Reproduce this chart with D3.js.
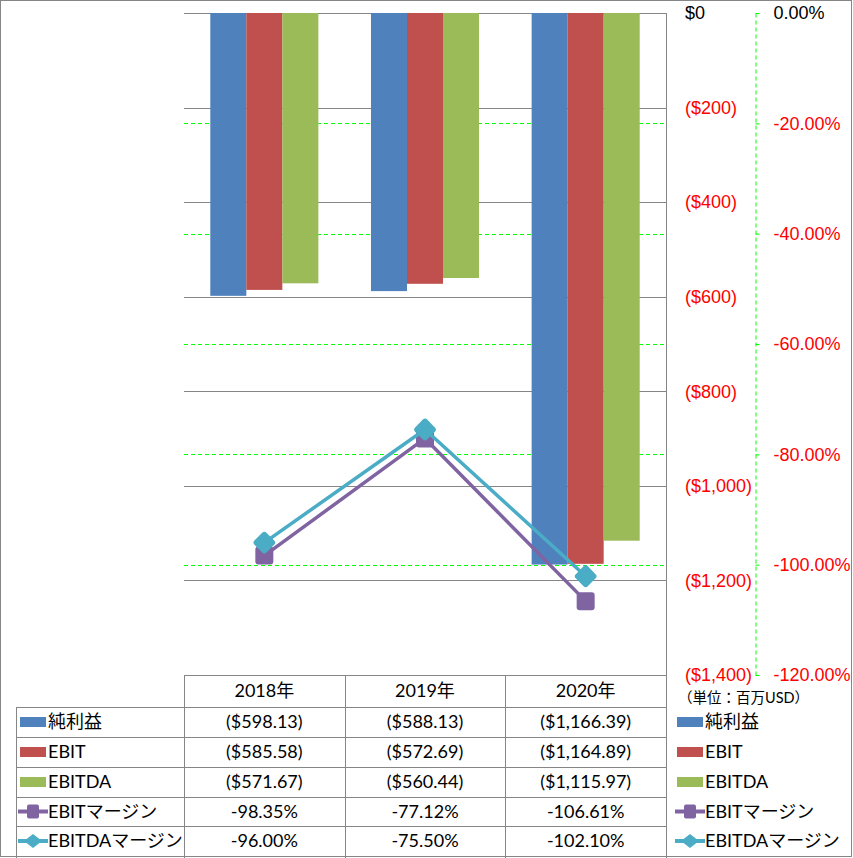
<!DOCTYPE html>
<html lang="ja">
<head>
<meta charset="UTF-8">
<script src="https://cdn.jsdelivr.net/npm/d3@7/dist/d3.min.js"></script>
<title>純利益 / EBIT / EBITDA</title>
<style>
  body { margin: 0; background: #fff; }
  svg { display: block; font-family: Lato, "Noto Sans CJK JP", sans-serif; }
</style>
</head>
<body>
<svg id="chart" width="853" height="858"></svg>
<script>
  // data (百万USD)
  const years = ["2018年", "2019年", "2020年"];
  const netIncome = [-598.13, -588.13, -1166.39];
  const ebit = [-585.58, -572.69, -1164.89];
  const ebitda = [-571.67, -560.44, -1115.97];
  const ebitMargin = [-98.35, -77.12, -106.61];
  const ebitdaMargin = [-96.00, -75.50, -102.10];
  const moneyTicks = [0, -200, -400, -600, -800, -1000, -1200, -1400];
  const pctTicks = [0, -20, -40, -60, -80, -100, -120];

  const barSeries = [
    {name: "純利益", values: netIncome, color: "#4F81BD"},
    {name: "EBIT", values: ebit, color: "#C0504D"},
    {name: "EBITDA", values: ebitda, color: "#9BBB59"}
  ];
  const lineSeries = [
    {name: "EBITマージン", values: ebitMargin, color: "#8064A2", shape: "square"},
    {name: "EBITDAマージン", values: ebitdaMargin, color: "#4BACC6", shape: "diamond"}
  ];

  const svg = d3.select("#chart");
  const grid = "#868686";
  const fs = 18;
  const plotL = 184, plotR = 666, plotT = 13, plotB = 675;

  // plain hyphen minus like the spreadsheet
  const pct = d3.formatLocale({decimal: ".", thousands: ",", grouping: [3], currency: ["$", ""], minus: "-"}).format(".2f");
  const fmtPct = d => pct(d) + "%";

  const x = d3.scaleBand(years, [plotL, plotR]);
  const x1 = d3.scaleBand(barSeries.map(d => d.name), [0, x.bandwidth()]).paddingOuter(0.73);
  const y = d3.scaleLinear([-1400, 0], [plotB, plotT]);
  const y2 = d3.scaleLinear([-120, 0], [plotB, plotT]);

  // outer frame
  svg.append("rect").attr("x", 0.5).attr("y", 0.5).attr("width", 851).attr("height", 856)
    .attr("fill", "none").attr("stroke", grid);

  // secondary gridlines (dashed green)
  svg.append("g").selectAll("line")
    .data(pctTicks.filter(d => d !== 0 && d !== -120))
    .join("line")
    .attr("x1", plotL).attr("x2", plotR)
    .attr("y1", d => Math.round(y2(d)) + 0.5).attr("y2", d => Math.round(y2(d)) + 0.5)
    .attr("stroke", "#00FF00").attr("stroke-dasharray", "4,3");

  // primary gridlines
  svg.append("g").selectAll("line")
    .data(moneyTicks)
    .join("line")
    .attr("x1", plotL).attr("x2", plotR)
    .attr("y1", d => Math.round(y(d)) + 0.5).attr("y2", d => Math.round(y(d)) + 0.5)
    .attr("stroke", grid);

  // bars
  svg.append("g").selectAll("g")
    .data(barSeries)
    .join("g")
    .attr("fill", d => d.color)
    .selectAll("rect")
    .data(s => s.values.map((v, i) => ({name: s.name, year: years[i], v})))
    .join("rect")
    .attr("x", d => x(d.year) + x1(d.name))
    .attr("width", x1.bandwidth())
    .attr("y", y(0))
    .attr("height", d => y(d.v) - y(0));

  // lines + markers
  const cx = d => x(d) + x.bandwidth() / 2;
  const line = d3.line().x(d => cx(d.year)).y(d => y2(d.v));
  function marker(sel, shape) {
    if (shape === "square") {
      sel.append("rect").attr("x", -9).attr("y", -9)
        .attr("width", 18).attr("height", 18).attr("rx", 3);
    } else {
      sel.append("rect").attr("x", -8.5).attr("y", -8.5)
        .attr("width", 17).attr("height", 17).attr("rx", 3)
        .attr("transform", "rotate(45)");
    }
  }
  lineSeries.forEach(s => {
    const pts = s.values.map((v, i) => ({year: years[i], v}));
    svg.append("path").datum(pts)
      .attr("d", line).attr("fill", "none")
      .attr("stroke", s.color).attr("stroke-width", 3.5).attr("stroke-linejoin", "round");
    svg.append("g").attr("fill", s.color).selectAll("g")
      .data(pts).join("g")
      .attr("transform", d => `translate(${cx(d.year)},${y2(d.v)})`)
      .each(function () { marker(d3.select(this), s.shape); });
  });

  // primary axis labels
  const fmtMoney = d => d === 0 ? "$0" : `($${d3.format(",")(Math.abs(d))})`;
  const axL = svg.append("g").attr("transform", `translate(${plotR},0)`)
    .call(d3.axisRight(y).tickValues(moneyTicks).tickFormat(fmtMoney).tickSize(0).tickPadding(19));
  axL.select(".domain").remove();
  axL.selectAll("text").attr("font-size", fs).attr("font-family", null)
    .attr("fill", d => d === 0 ? "#000" : "#FF0000");

  // secondary axis
  const axR = svg.append("g").attr("transform", `translate(755.5,0)`)
    .call(d3.axisRight(y2).tickValues(pctTicks).tickFormat(fmtPct)
      .tickSize(4).tickSizeOuter(0).tickPadding(14));
  axR.select(".domain").attr("stroke", "#00FF00").attr("stroke-dasharray", "4,3");
  axR.selectAll(".tick line").attr("stroke", "#00FF00");
  axR.selectAll("text").attr("font-size", fs).attr("font-family", null)
    .attr("fill", d => d === 0 ? "#000" : "#FF0000");

  svg.append("text").attr("x", 678).attr("y", 703).attr("font-size", 14.5)
    .text("（単位：百万USD）");

  // data table
  const rowEdges = [675, 707, 737, 767, 797, 826, 856];
  const colEdges = [16, plotL, x(years[1]), x(years[2]), plotR];
  const tbl = svg.append("g").attr("stroke", grid).attr("fill", "none");
  rowEdges.slice(1, -1).forEach(r => {
    tbl.append("line").attr("x1", colEdges[0]).attr("x2", plotR)
      .attr("y1", r + 0.5).attr("y2", r + 0.5);
  });
  colEdges.forEach((c, i) => {
    tbl.append("line").attr("x1", Math.round(c) + 0.5).attr("x2", Math.round(c) + 0.5)
      .attr("y1", i === 0 ? rowEdges[1] : (i === 4 ? plotT : rowEdges[0])).attr("y2", 858);
  });

  const rowMid = i => (rowEdges[i] + rowEdges[i + 1]) / 2;
  // header
  svg.append("g").selectAll("text").data(years).join("text")
    .attr("x", d => cx(d)).attr("y", rowMid(0)).attr("dy", "0.35em")
    .attr("text-anchor", "middle").attr("font-size", fs).text(d => d);

  const fmtCell = v => `($${d3.format(",.2f")(Math.abs(v))})`;
  const rows = [
    ...barSeries.map(s => ({...s, kind: "bar", cells: s.values.map(fmtCell)})),
    ...lineSeries.map(s => ({...s, kind: "line", cells: s.values.map(fmtPct)}))
  ];

  function legendKey(g, s, kx) {
    if (s.kind === "bar") {
      g.append("rect").attr("x", kx).attr("y", -5).attr("width", 26).attr("height", 10).attr("fill", s.color);
    } else {
      g.append("line").attr("x1", kx - 2).attr("x2", kx + 28).attr("stroke", s.color).attr("stroke-width", 4);
      const m = g.append("g").attr("fill", s.color).attr("transform", `translate(${kx + 13},0)`);
      if (s.shape === "square") {
        m.append("rect").attr("x", -6).attr("y", -7).attr("width", 12).attr("height", 14).attr("rx", 2);
      } else {
        m.append("path").attr("d", "M-9,0L0,-7L9,0L0,7Z");
      }
    }
  }

  rows.forEach((s, i) => {
    const ym = rowMid(i + 1);
    s.cells.forEach((c, j) => {
      svg.append("text").attr("x", cx(years[j])).attr("y", ym).attr("dy", "0.35em")
        .attr("text-anchor", "middle").attr("font-size", fs).text(c);
    });
    [{kx: 20, tx: 48}, {kx: 677, tx: 705}].forEach(p => {
      const g = svg.append("g").attr("transform", `translate(0,${ym})`);
      legendKey(g, s, p.kx);
      g.append("text").attr("x", p.tx).attr("dy", "0.35em").attr("font-size", fs).text(s.name);
    });
  });
</script>
</body>
</html>
